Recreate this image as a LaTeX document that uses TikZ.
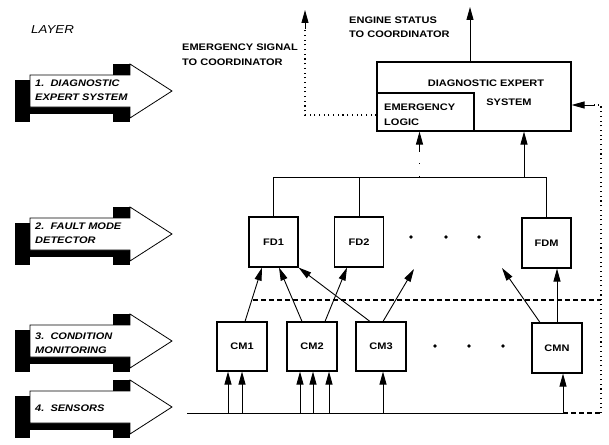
\documentclass[tikz,border=0pt]{standalone}
\usepackage{fontspec}
\setmainfont{Liberation Sans}
\newfontfamily\dfont{Liberation Sans Bold}[FakeStretch=1.16]
\newfontfamily\difont{Liberation Sans Bold Italic}[FakeStretch=1.16]
\newfontfamily\lfont{Liberation Sans Italic}[FakeStretch=1.16]
\usetikzlibrary{arrows.meta}
\begin{document}
\begin{tikzpicture}[x=1pt,y=-1pt,
  font=\fontsize{9.5}{14.5}\selectfont\dfont,
  txt/.style={inner sep=0pt, align=left},
  itxt/.style={inner sep=0pt, align=left, font=\fontsize{9.5}{14.5}\selectfont\difont},
  blk/.style={draw, line width=1.1pt, minimum width=49pt, minimum height=50pt, inner sep=0pt},
  ln/.style={line width=0.9pt},
  arr/.style={line width=0.9pt, -{Triangle[length=13pt,width=7pt]}},
  dotl/.style={line width=1.1pt, dash pattern=on 1.1pt off 3.6pt},
  dashl/.style={line width=1.2pt, dash pattern=on 4.5pt off 3.5pt},
  layerarrow/.pic={
    \fill[black] (15,-11) rectangle (30,31);
    \fill[black] (15,16) rectangle (130,23);
    \fill[black] (113,16) rectangle (130,31);
    \fill[black] (113,-27) rectangle (130,-16);
    \filldraw[fill=white, draw=black, line width=0.8pt]
      (30,-16) -- (130,-16) -- (130,-27) -- (172,0) -- (130,27) -- (130,16) -- (30,16) -- cycle;
  }]
\useasboundingbox (0,0) rectangle (609,444);

% layer arrows
\pic at (0,91) {layerarrow};
\pic at (0,234) {layerarrow};
\pic at (0,341) {layerarrow};
\pic at (0,407) {layerarrow};
\node[itxt, anchor=west, font=\fontsize{11.5}{13}\selectfont\lfont] (layer) at (31,30) {LAYER};
\node[itxt, anchor=west] (l1) at (35,90) {1.\ \ DIAGNOSTIC\\EXPERT SYSTEM};
\node[itxt, anchor=west] (l2) at (35,233) {2.\ \ FAULT MODE\\DETECTOR};
\node[itxt, anchor=west] (l3) at (35,343) {3.\ \ CONDITION\\MONITORING};
\node[itxt, anchor=west] (l4) at (35,408) {4.\ \ SENSORS};

% expert system
\node[draw, line width=1.1pt, minimum width=194pt, minimum height=69pt, inner sep=0pt] (DES) at (474,96.5) {};
\node[draw, line width=1.1pt, minimum width=97pt, minimum height=38pt, inner sep=0pt] (EL) at (425.5,112) {};
\node[txt] (dtitle) at (486,83) {DIAGNOSTIC EXPERT};
\node[txt] (dsys) at (509,102) {SYSTEM};
\node[txt, anchor=west] (eltxt) at (384,114.5) {EMERGENCY\\LOGIC};

% outputs
\node[txt, anchor=west] (emlbl) at (182,54.5) {EMERGENCY SIGNAL\\TO COORDINATOR};
\node[txt, anchor=west] (englbl) at (349,27) {ENGINE STATUS\\TO COORDINATOR};
\coordinate (engtip) at (470,7);
\draw[arr] ([xshift=-4pt]DES.north) -- (engtip);
\coordinate (emtop) at (305,29);
\coordinate (emtip) at (305,10);
\draw[dotl] ([yshift=-3pt]EL.west) -| (emtop);
\draw[arr] (emtop) -- (emtip);

% fault mode detectors
\node[blk] (FD1) at (273.5,242) {FD1};
\node[blk] (FD2) at (359,242) {FD2};
\node[blk] (FDM) at (546.5,243) {FDM};
\foreach \x in {411,446,479} \fill (\x,237) circle (1.9pt);
\coordinate (busy) at (0,177);
\draw[ln] (FD1.north) -- (FD1.north |- busy) -- (FDM.north |- busy) -- (FDM.north);
\draw[ln] (FD2.north) -- (FD2.north |- busy);
\draw[arr] ([xshift=50pt]DES.south |- busy) -- ([xshift=50pt]DES.south);
\draw[dotl, dash pattern=on 1.1pt off 12pt] ([xshift=-6pt]EL.south |- busy) -- ([xshift=-6pt,yshift=-19pt]EL.south);
\draw[arr] ([xshift=-6pt,yshift=-19pt]EL.south) -- ([xshift=-6pt]EL.south);

% condition monitoring
\node[blk, minimum width=50pt, minimum height=49pt] (CM1) at (242,346.5) {CM1};
\node[blk, minimum width=50pt, minimum height=49pt] (CM2) at (312,346.5) {CM2};
\node[blk, minimum width=50pt, minimum height=49pt] (CM3) at (381,346.5) {CM3};
\node[blk, minimum width=50pt, minimum height=50pt] (CMN) at (557,348) {CMN};
\foreach \x in {435,469,503} \fill (\x,346) circle (1.9pt);

\coordinate (fr1) at (414,269);
\coordinate (fr2) at (502,268);
\draw[arr] ([xshift=3pt]CM1.north) -- ([xshift=-11.5pt]FD1.south);
\draw[arr] ([xshift=-10pt]CM2.north) -- ([xshift=5.5pt]FD1.south);
\draw[arr] ([xshift=-11pt]CM3.north) -- (FD1.south east);
\draw[arr] ([xshift=13pt]CM2.north) -- ([xshift=-12pt]FD2.south);
\draw[arr] ([xshift=2pt]CM3.north) -- (fr1);
\draw[arr] ([xshift=-17pt]CMN.north) -- (fr2);
\draw[arr] (CMN.north) -- (CMN.north |- FDM.south);

% sensors
\coordinate (sensL) at (187,413);
\draw[ln] (sensL) -- ([xshift=6pt]CMN.south |- sensL);
\foreach \dx in {-14,0} \draw[arr] ([xshift=\dx pt]CM1.south |- sensL) -- ([xshift=\dx pt]CM1.south);
\foreach \dx in {-12,1,17} \draw[arr] ([xshift=\dx pt]CM2.south |- sensL) -- ([xshift=\dx pt]CM2.south);
\draw[arr] ([xshift=2pt]CM3.south |- sensL) -- ([xshift=2pt]CM3.south);
\draw[arr] ([xshift=6pt]CMN.south |- sensL) -- ([xshift=6pt]CMN.south);

% feedback to expert system
\coordinate (fbx) at (601,0);
\coordinate (fbend) at (594,105);
\draw[dashl] ([xshift=6pt]CMN.south |- sensL) -- (fbx |- sensL);
\draw[dotl] (fbx |- sensL) -- (fbx |- fbend) -- (fbend);
\draw[arr] (fbend) -- (DES.east |- fbend);
\coordinate (dashL) at (253,300);
\draw[dashl] (dashL) -- (fbx |- dashL);
\end{tikzpicture}
\end{document}
